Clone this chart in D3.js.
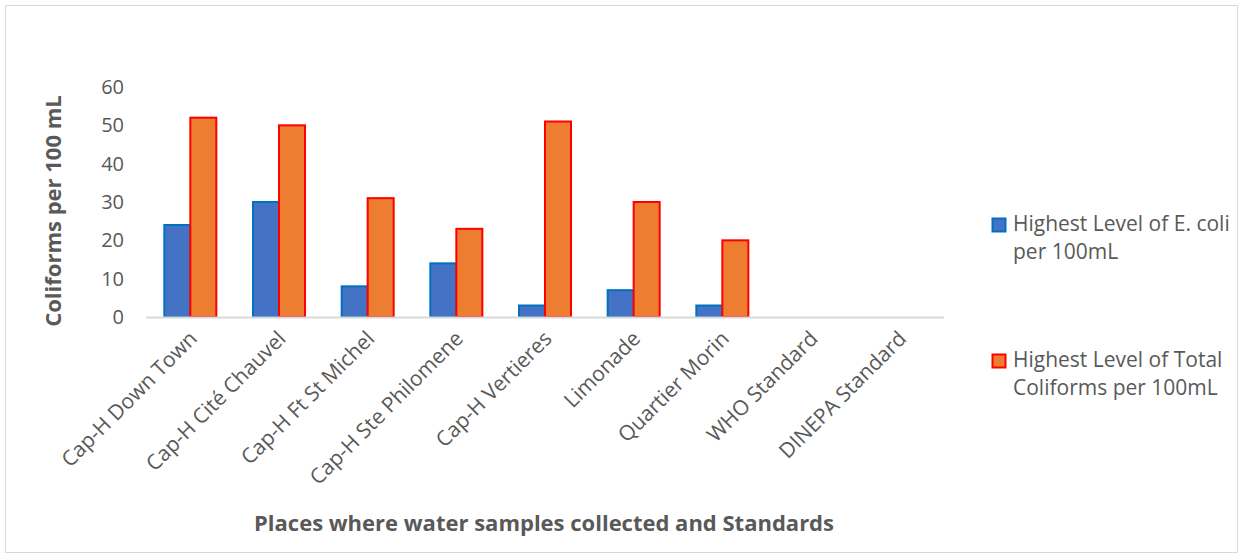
<!DOCTYPE html>
<html>
<head>
<meta charset="utf-8">
<script src="https://cdn.jsdelivr.net/npm/d3@7"></script>
<style>
  html, body { margin: 0; padding: 0; background: #fff; }
  svg { display: block; }
  text { font-family: "Open Sans", "Liberation Sans", sans-serif; fill: #595959; }
</style>
</head>
<body>
<svg id="chart" width="1243" height="555"></svg>
<script>
// Sampling places and standards
const categories = [
  "Cap-H Down Town", "Cap-H Cité Chauvel", "Cap-H Ft St Michel",
  "Cap-H Ste Philomene", "Cap-H Vertieres", "Limonade",
  "Quartier Morin", "WHO Standard", "DINEPA Standard"
];
// Highest level of E. coli per 100 mL
const ecoli = [24, 30, 8, 14, 3, 7, 3, 0, 0];
// Highest level of total coliforms per 100 mL
const totalColiforms = [52, 50, 31, 23, 51, 30, 20, 0, 0];
const yTicks = [0, 10, 20, 30, 40, 50, 60];
const seriesNames = [
  ["Highest Level of E. coli", "per 100mL"],
  ["Highest Level of Total", "Coliforms per 100mL"]
];

const FONT = "'Open Sans', 'Liberation Sans', sans-serif";
const svg = d3.select("#chart");

// Chart frame
svg.append("rect")
  .attr("x", 5.5).attr("y", 5.5)
  .attr("width", 1232).attr("height", 547)
  .attr("fill", "#fff").attr("stroke", "#d9d9d9").attr("stroke-width", 1);

const plot = { left: 146, right: 944, top: 87, bottom: 317 };

const x = d3.scaleBand().domain(categories).range([plot.left, plot.right]).paddingInner(0).paddingOuter(0);
const y = d3.scaleLinear().domain([0, 60]).range([plot.bottom, plot.top]);

const barW = 26;
const series = [
  { values: ecoli, fill: "#4472C4", stroke: "#0070C0" },
  { values: totalColiforms, fill: "#ED7D31", stroke: "#FF0000" }
];

// Bars
series.forEach((s, si) => {
  svg.append("g").selectAll("rect")
    .data(categories.map((c, i) => ({ c, v: s.values[i] })).filter(d => d.v > 0))
    .join("rect")
    .attr("x", d => x(d.c) + x.bandwidth() / 2 - barW + si * barW)
    .attr("y", d => y(d.v))
    .attr("width", barW)
    .attr("height", d => y(0) - y(d.v))
    .attr("fill", s.fill)
    .attr("stroke", s.stroke)
    .attr("stroke-width", 2);
});

// Category axis line
svg.append("line")
  .attr("x1", plot.left).attr("x2", plot.right)
  .attr("y1", y(0) + 0.5).attr("y2", y(0) + 0.5)
  .attr("stroke", "#d9d9d9").attr("stroke-width", 2);

// Value axis labels
const yAxis = svg.append("g")
  .attr("transform", `translate(${plot.left - 22},0)`)
  .call(d3.axisLeft(y).tickValues(yTicks).tickSize(0).tickPadding(0));
yAxis.select(".domain").remove();
yAxis.selectAll("text")
  .attr("font-size", 20)
  .attr("fill", "#595959")
  .style("font-family", FONT);

// Category labels, rotated
const xAxis = svg.append("g")
  .attr("transform", `translate(0,${y(0)})`)
  .call(d3.axisBottom(x).tickSize(0).tickPadding(0));
xAxis.select(".domain").remove();
xAxis.selectAll("text")
  .attr("font-size", 21)
  .attr("fill", "#595959")
  .style("font-family", FONT)
  .attr("text-anchor", "end")
  .attr("dy", null)
  .attr("transform", "translate(8,23) rotate(-45)");

// Axis titles
svg.append("text")
  .attr("transform", `translate(61,${(plot.top + plot.bottom) / 2 + 9}) rotate(-90)`)
  .attr("text-anchor", "middle")
  .attr("font-size", 22)
  .attr("font-weight", "bold")
  .text("Coliforms per 100 mL");

svg.append("text")
  .attr("x", 544).attr("y", 531)
  .attr("text-anchor", "middle")
  .attr("font-size", 22)
  .attr("font-weight", "bold")
  .text("Places where water samples collected and Standards");

// Legend
const legendY = [218, 354];
series.forEach((s, i) => {
  const g = svg.append("g").attr("transform", `translate(992,${legendY[i]})`);
  g.append("rect")
    .attr("x", 0.5).attr("y", 0.5).attr("width", 13).attr("height", 13)
    .attr("fill", s.fill).attr("stroke", s.stroke).attr("stroke-width", 2);
  g.append("text")
    .attr("x", 21).attr("y", 13)
    .attr("font-size", 21)
    .selectAll("tspan")
    .data(seriesNames[i])
    .join("tspan")
    .attr("x", 21)
    .attr("dy", (d, j) => j === 0 ? 0 : 27.5)
    .text(d => d);
});
</script>
</body>
</html>
